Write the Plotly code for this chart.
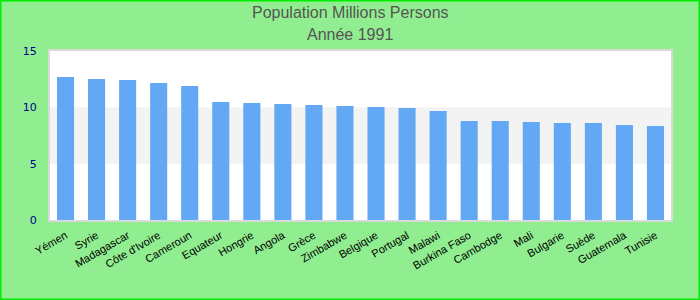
import plotly.graph_objects as go

countries = ["Yémen", "Syrie", "Madagascar", "Côte d'Ivoire", "Cameroun", "Equateur",
             "Hongrie", "Angola", "Grèce", "Zimbabwe", "Belgique", "Portugal", "Malawi",
             "Burkina Faso", "Cambodge", "Mali", "Bulgarie", "Suède", "Guatemala", "Tunisie"]
population = [12.69, 12.51, 12.42, 12.16, 11.89, 10.47, 10.38, 10.29, 10.2, 10.12,
              10.03, 9.94, 9.67, 8.78, 8.78, 8.7, 8.61, 8.61, 8.43, 8.34]
y_ticks = [0, 5, 10, 15]
band = [5, 10]
title_lines = ["Population Millions Persons", "Année 1991"]

fig = go.Figure(go.Bar(x=countries, y=population, marker_color="#62a8f4",
                       marker_line_width=0))

title_font = dict(family="Liberation Sans, Arial", size=16, color="#555555")

fig.update_layout(
    width=700, height=300,
    paper_bgcolor="#90ee90", plot_bgcolor="#ffffff",
    margin=dict(l=50, r=29, t=51, b=80),
    bargap=0.45,
    showlegend=False,
    xaxis=dict(tickangle=-30, tickfont=dict(family="Liberation Sans, Arial", size=11, color="#000000"),
               showgrid=False, showline=True, linewidth=2, linecolor="#d9d9d9", mirror=True,
               ticks="outside", ticklen=3, tickcolor="rgba(0,0,0,0)"),
    yaxis=dict(range=[0, 15], tickvals=y_ticks, showgrid=False, zeroline=False,
               tickfont=dict(family="DejaVu Sans", size=11, color="#00008b"),
               showline=True, linewidth=2, linecolor="#d9d9d9", mirror=True,
               ticks="outside", ticklen=9, tickcolor="rgba(0,0,0,0)"),
    annotations=[
        dict(text=title_lines[0], xref="paper", yref="paper", x=(350 - 50) / 621, y=1 + 38 / 169,
             xanchor="center", yanchor="middle", showarrow=False, font=title_font),
        dict(text=title_lines[1], xref="paper", yref="paper", x=(350 - 50) / 621, y=1 + 16 / 169,
             xanchor="center", yanchor="middle", showarrow=False, font=title_font),
    ],
    shapes=[
        dict(type="rect", xref="paper", yref="y", x0=0, x1=1, y0=band[0], y1=band[1],
             fillcolor="#f3f3f3", line_width=0, layer="below"),
        dict(type="rect", xref="paper", yref="paper",
             x0=-50/621, x1=1+29/621, y0=-80/169, y1=1+51/169,
             line=dict(color="#00ee00", width=3), fillcolor="rgba(0,0,0,0)"),
    ],
)

fig.write_html("out.html")
